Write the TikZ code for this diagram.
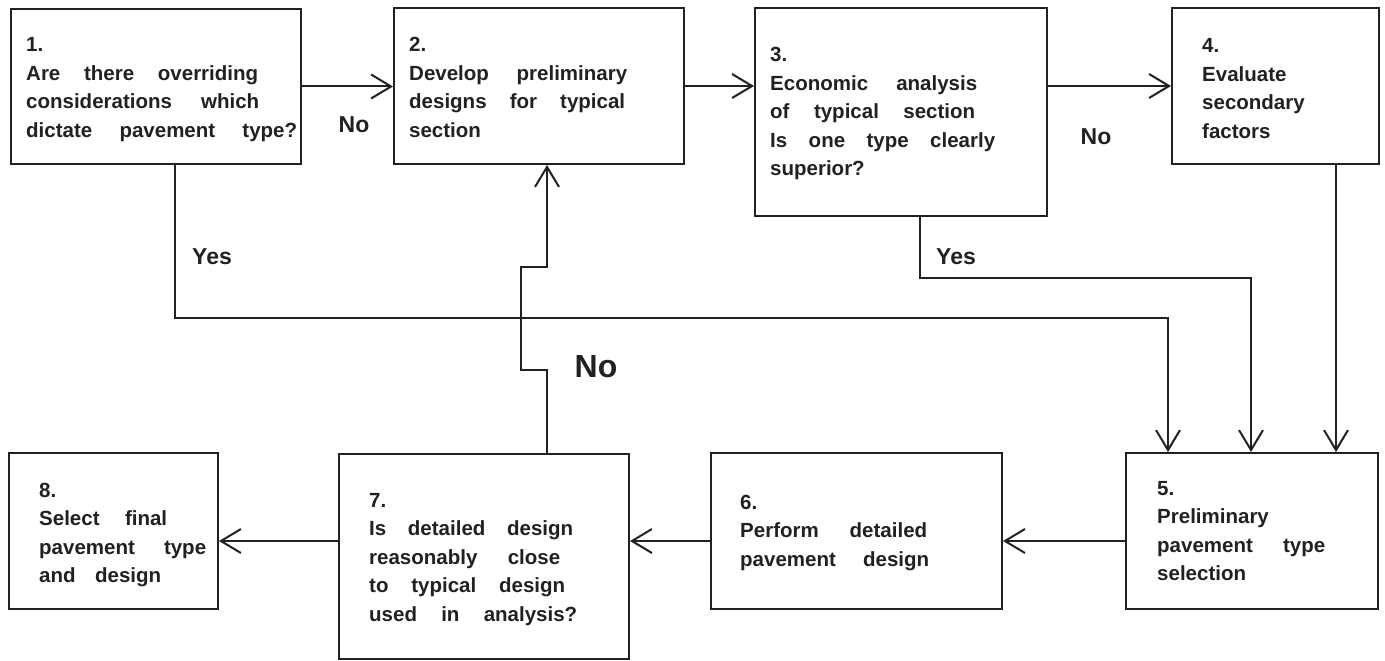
\documentclass[tikz,border=0pt]{standalone}
\usepackage{fontspec}
\setmainfont{Liberation Sans}
\usetikzlibrary{arrows.meta,calc}
\definecolor{ink}{gray}{0.13}
% a line whose word spaces are stretched to the given width
\newcommand\J[2]{\makebox[#1pt][s]{#2}}
% box text: left-aligned lines, baseline of the first line as reference
\newcommand\steptext[1]{\begin{tabular}[t]{@{}l@{}}#1\end{tabular}}

\begin{document}
\begin{tikzpicture}[x=1pt,y=-1pt,
  stepbox/.style={draw=ink, line width=2pt, inner sep=0pt, anchor=north west},
  steptxt/.style={text=ink, inner sep=0pt, anchor=base west,
    font=\fontsize{20.5}{28.5}\selectfont\bfseries},
  lbl/.style={text=ink, inner sep=0pt, font=\fontsize{23}{26}\selectfont\bfseries},
  arr/.style={draw=ink, line width=2pt,
    -{Straight Barb[length=20pt,width=24pt,line width=2pt]}}]

\useasboundingbox (0,0) rectangle (1385,661);

% process boxes
\node[stepbox, minimum width=290pt, minimum height=155pt] (b1) at (10,8) {};
\node[stepbox, minimum width=290pt, minimum height=156pt] (b2) at (393,7) {};
\node[stepbox, minimum width=292pt, minimum height=208pt] (b3) at (754,7) {};
\node[stepbox, minimum width=207pt, minimum height=156pt] (b4) at (1171,7) {};
\node[stepbox, minimum width=252pt, minimum height=156pt] (b5) at (1125,452) {};
\node[stepbox, minimum width=291pt, minimum height=156pt] (b6) at (710,452) {};
\node[stepbox, minimum width=290pt, minimum height=205pt] (b7) at (338,453) {};
\node[stepbox, minimum width=209pt, minimum height=156pt] (b8) at (8,452) {};

% box texts
\node[steptxt] (t1) at (26,52) {\steptext{1.\\
  \J{232}{Are there overriding}\\
  \J{233}{considerations which}\\
  \J{271}{dictate pavement type?}}};
\node[steptxt] (t2) at (409,52) {\steptext{2.\\
  \J{218}{Develop preliminary}\\
  \J{216}{designs for typical}\\
  section}};
\node[steptxt] (t3) at (770,62) {\steptext{3.\\
  \J{207}{Economic analysis}\\
  \J{205}{of typical section}\\
  \J{225}{Is one type clearly}\\
  superior?}};
\node[steptxt] (t4) at (1202,53) {\steptext{4.\\ Evaluate\\ secondary\\ factors}};
\node[steptxt] (t5) at (1157,495) {\steptext{5.\\
  Preliminary\\
  \J{168}{pavement type}\\
  selection}};
\node[steptxt] (t6) at (740,509) {\steptext{6.\\
  \J{187}{Perform detailed}\\
  \J{189}{pavement design}}};
\node[steptxt] (t7) at (369,507) {\steptext{7.\\
  \J{204}{Is detailed design}\\
  \J{191}{reasonably close}\\
  \J{196}{to typical design}\\
  \J{208}{used in analysis?}}};
\node[steptxt] (t8) at (39,497) {\steptext{8.\\
  \J{128}{Select final}\\
  \J{167}{pavement type}\\
  \J{122}{and design}}};

% top row
\draw[arr] (b1.east) -- (b1.east -| b2.west);
\draw[arr] (b2.east) -- (b2.east -| b3.west);
\draw[arr] (b4.west -| b3.east) -- (b4.west);

% routes down to box 5
\coordinate (bus1) at (0,318);
\coordinate (bus3) at (0,278);
\coordinate (y1a) at ([xshift=165pt]b1.south west);
\coordinate (y1b) at ([xshift=43pt]b5.north west);
\coordinate (y3a) at ([xshift=166pt]b3.south west);
\coordinate (y3b) at ([xshift=126pt]b5.north west);
\coordinate (y4a) at ([xshift=165pt]b4.south west);
\draw[arr] (y1a) |- (bus1 -| y1b) -- (y1b);
\draw[arr] (y3a) |- (bus3 -| y3b) -- (y3b);
\draw[arr] (y4a) -- (y4a |- b5.north);

% bottom row
\coordinate (r5) at ([yshift=-10pt]b5.west);
\draw[arr] (r5) -- (r5 -| b6.east);
\draw[arr] (r5 -| b6.west) -- (r5 -| b7.east);
\draw[arr] (r5 -| b7.west) -- (r5 -| b8.east);

% feedback from box 7 to box 2, stepping round the crossing
\coordinate (n7) at ([xshift=209pt]b7.north west);
\draw[arr] (n7) -- ++(0,-83) -- ++(-26,0) -- ++(0,-103) -- ++(26,0) -- (n7 |- b2.south);

% branch labels
\node[lbl] (no12) at (354,125) {No};
\node[lbl] (yes1) at (212,257) {Yes};
\node[lbl] (no34) at (1096,137) {No};
\node[lbl] (yes3) at (956,257) {Yes};
\node[lbl, font=\fontsize{32}{36}\selectfont\bfseries] (no72) at (596,367) {No};
\end{tikzpicture}
\end{document}
